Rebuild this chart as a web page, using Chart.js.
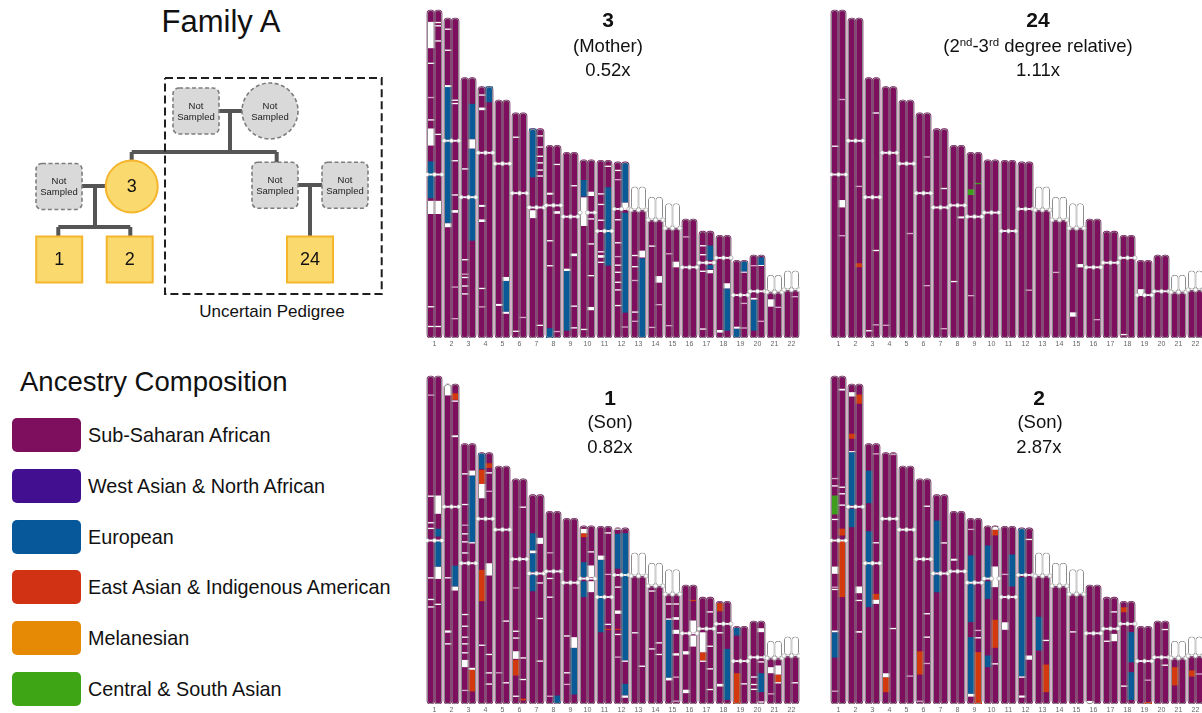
<!DOCTYPE html>
<html>
<head>
<meta charset="utf-8">
<title>Family A – local ancestry</title>
<script src="https://cdn.jsdelivr.net/npm/chart.js@4/dist/chart.umd.min.js"></script>
<style>
  html, body { margin: 0; padding: 0; background: #fff; overflow: hidden; width: 1202px; height: 713px; }
  body { position: relative; font-family: "Liberation Sans", Arial, Helvetica, sans-serif; color: #111; }
  canvas { position: absolute; }
  .txt { position: absolute; white-space: nowrap; text-align: center; }
  .pt { position: absolute; white-space: nowrap; text-align: center; width: 260px; font-size: 18.5px; line-height: 22px; }
  .pt.num { font-size: 21px; line-height: 24px; font-weight: bold; }
  .pt sup { font-size: 0.62em; line-height: 0; vertical-align: 0.55em; }
  .sw { position: absolute; border-radius: 5px; }
  .lab { position: absolute; white-space: nowrap; font-size: 19.8px; line-height: 24px; }
</style>
</head>
<body>

<div class="txt" style="left:121px;width:200px;top:3px;font-size:31px;line-height:37px;">Family A</div>
<div class="txt" style="left:172px;width:200px;top:301px;font-size:17px;line-height:22px;">Uncertain Pedigree</div>
<div class="txt" style="left:20px;top:366px;font-size:27.5px;line-height:32px;text-align:left;">Ancestry Composition</div>

<canvas id="pedigree" width="400" height="330" style="left:0;top:0;"></canvas>
<canvas id="k_mother" width="374" height="344" style="left:426px;top:8px;"></canvas>
<canvas id="k_rel24" width="374" height="344" style="left:830px;top:8px;"></canvas>
<canvas id="k_son1" width="374" height="344" style="left:426px;top:373.5px;"></canvas>
<canvas id="k_son2" width="374" height="344" style="left:830px;top:373.5px;"></canvas>

<div class="pt num" style="left:478px;top:8.3px;">3</div>
<div class="pt" style="left:478px;top:34.6px;">(Mother)</div>
<div class="pt" style="left:478px;top:58.7px;">0.52x</div>

<div class="pt num" style="left:908px;top:8.3px;">24</div>
<div class="pt" style="left:908px;top:34.6px;">(2<sup>nd</sup>-3<sup>rd</sup> degree relative)</div>
<div class="pt" style="left:908px;top:58.7px;">1.11x</div>

<div class="pt num" style="left:480px;top:385.5px;">1</div>
<div class="pt" style="left:480px;top:411.4px;">(Son)</div>
<div class="pt" style="left:480px;top:435.7px;">0.82x</div>

<div class="pt num" style="left:909px;top:385.5px;">2</div>
<div class="pt" style="left:910px;top:411.4px;">(Son)</div>
<div class="pt" style="left:909px;top:435.7px;">2.87x</div>

<div id="legend"></div>

<script>
// ---------------------------------------------------------------------------
// Reference genome (GRCh37), autosomes only, in Mb
// ---------------------------------------------------------------------------
const chromosomes = ['1','2','3','4','5','6','7','8','9','10','11','12','13','14','15','16','17','18','19','20','21','22'];
const chromLengthMb = [249.25, 243.2, 198.0, 191.15, 180.9, 171.1, 159.1, 146.4, 141.2, 135.5, 135.0, 133.85,
                       115.2, 107.35, 102.5, 90.35, 81.2, 78.1, 59.1, 63.0, 48.1, 51.3];
const centromereMb = [125.0, 93.3, 91.0, 50.4, 48.4, 61.0, 59.9, 45.6, 49.0, 40.2, 53.7, 35.8,
                      17.9, 17.6, 19.0, 36.6, 24.0, 17.2, 26.5, 27.5, 13.2, 14.7];
const acrocentric = ['13','14','15','21','22'];

// Ancestry legend
const ancestryLabels = ['Sub-Saharan African', 'West Asian & North African', 'European',
                        'East Asian & Indigenous American', 'Melanesian', 'Central & South Asian'];
const ancestryColors = ['#7e0f5f', '#430f91', '#07589a', '#d23214', '#e68a05', '#3ea515'];

// Segment classes painted on top of the Sub-Saharan African background
const segmentColors = {
  EUR: '#0a5a97',   // European
  EAS: '#d4380f',   // East Asian & Indigenous American
  CSA: '#3e9e1c',   // Central & South Asian
  UNA: '#ffffff',   // unassigned
  LOW: '#d7a6c8'    // low-confidence call
};
const segmentOrder = ['EUR', 'EAS', 'CSA', 'UNA', 'LOW'];

// Painted segments: [chromosome, haplotype (0/1), start Mb, end Mb, class]
const motherSegments = [
  [1,0,9,29,'UNA'],[1,0,40,41,'UNA'],[1,0,66,67,'LOW'],[1,0,83,84,'UNA'],[1,0,90,103,'UNA'],[1,0,115,143,'EUR'],
  [1,0,145,155,'UNA'],[1,1,145,155,'UNA'],[1,0,225,226,'UNA'],[1,0,240,241,'UNA'],[1,1,240,241,'UNA'],
  [1,1,9,10,'UNA'],[1,1,11.5,12.5,'UNA'],[1,1,23,24,'UNA'],[1,1,94,95,'UNA'],
  [2,0,8,9,'UNA'],[2,0,24,25,'UNA'],[2,0,51,52.5,'UNA'],[2,0,52.5,156,'EUR'],[2,0,156,159,'UNA'],
  [2,1,62,63,'UNA'],[2,1,64.5,65.5,'UNA'],[2,1,108,109,'UNA'],[2,1,134,135,'UNA'],[2,1,146,148,'UNA'],
  [2,1,204,205,'LOW'],[2,1,228,229,'LOW'],
  [3,1,20,47,'EUR'],[3,1,47,54,'UNA'],[3,1,54,124,'EUR'],[3,0,69,70,'UNA'],[3,0,138,139,'UNA'],
  [3,0,149,150,'LOW'],[3,0,151.5,152.5,'UNA'],[3,0,158,159,'UNA'],[3,0,164,165,'UNA'],
  [4,0,6,7,'UNA'],[4,0,16,18,'UNA'],[4,0,90,91.5,'UNA'],[4,0,101,103,'UNA'],[4,0,153,154,'UNA'],[4,0,167,168,'LOW'],
  [4,1,0,12,'EUR'],
  [5,0,155,156.5,'UNA'],[5,1,134.5,137.5,'UNA'],[5,1,137.5,161,'EUR'],[5,1,161,162.5,'UNA'],
  [6,0,18,19,'UNA'],[6,0,165.5,166.5,'UNA'],[6,1,155,156,'LOW'],
  [7,0,0,37,'EUR'],[7,0,62,68,'UNA'],[7,1,5,6,'UNA'],[7,1,13.5,14.5,'UNA'],[7,1,20.5,21.5,'UNA'],
  [7,1,25.5,26.5,'UNA'],[7,1,31,32,'UNA'],[7,1,35.5,36.5,'UNA'],[7,1,149,150,'UNA'],
  [8,0,36,37.5,'UNA'],[8,0,72,73,'UNA'],[8,0,91,92,'UNA'],[8,0,139,146.4,'EUR'],[8,1,14,15,'UNA'],
  [8,1,50,52,'UNA'],[8,1,141,142,'LOW'],
  [9,0,88.5,90.3,'UNA'],[9,0,90.3,135.6,'EUR'],[9,1,25,26,'UNA'],[9,1,77,79,'UNA'],[9,1,116.5,117.5,'UNA'],[9,1,133,134,'UNA'],
  [10,0,15.4,28,'EUR'],[10,0,28.6,50.4,'UNA'],[10,0,128.5,129.5,'UNA'],[10,1,24.3,27.6,'UNA'],[10,1,44.5,45.5,'UNA'],
  [10,1,63.5,64.5,'UNA'],[10,1,87.6,88.6,'UNA'],[10,1,111.9,114.4,'UNA'],
  [11,1,4,5,'UNA'],[11,1,20.5,80,'EUR'],[11,0,25,26,'UNA'],[11,0,33,34,'UNA'],[11,0,45,46,'UNA'],
  [11,0,69,70,'UNA'],[11,0,72,74,'UNA'],[11,0,77,78,'UNA'],
  [12,0,6,7,'UNA'],[12,0,13,14,'LOW'],[12,0,43.5,44.5,'UNA'],[12,0,61,62,'UNA'],[12,0,71.5,72.5,'LOW'],
  [12,0,78,79,'UNA'],[12,0,83.4,84.4,'UNA'],[12,0,91,92,'UNA'],[12,0,96.8,97.8,'UNA'],[12,0,108.7,109.7,'UNA'],
  [12,1,1,31,'EUR'],[12,1,31,35.3,'UNA'],[12,1,38.6,114.6,'EUR'],[12,1,125,126,'LOW'],
  [13,0,52,53,'UNA'],[13,0,60.5,61.5,'UNA'],[13,0,71,72,'LOW'],[13,0,95,96,'UNA'],[13,0,102,103,'LOW'],
  [13,1,48.8,54,'UNA'],[13,1,54.6,114.7,'EUR'],
  [14,0,37,38,'UNA'],[14,0,98.8,99.8,'LOW'],[14,1,60.3,65.3,'UNA'],[14,1,81.5,82.5,'LOW'],
  [15,0,38,39,'LOW'],[15,0,92.6,93.6,'LOW'],[15,1,44.5,48.8,'UNA'],
  [16,0,13,14,'LOW'],
  [17,0,10.6,11.6,'UNA'],[17,0,17.4,18.4,'UNA'],[17,0,30,31,'UNA'],[17,0,73.9,74.9,'UNA'],
  [17,1,11,22,'EUR'],[17,1,25.8,29,'EUR'],[17,1,29.5,32,'UNA'],
  [18,0,72,74,'UNA'],[18,1,36.5,40.4,'UNA'],[18,1,40.4,72.6,'EUR'],
  [19,0,50.5,52,'UNA'],[19,0,52,58.6,'EUR'],[19,1,1,8.7,'EUR'],[19,1,8.7,9.5,'UNA'],[19,1,32.3,33.3,'LOW'],[19,1,51,52,'LOW'],
  [20,0,7.5,8.5,'LOW'],[20,0,32.5,33.8,'UNA'],[20,0,34,57.4,'EUR'],[20,1,1.7,7.5,'EUR'],[20,1,7.5,8.3,'UNA'],[20,1,49.8,50.8,'LOW'],
  [21,0,18.7,24.3,'UNA'],[21,1,24.3,25.3,'LOW'],
  [22,1,19.4,20.4,'LOW']
];

const relative24Segments = [
  [1,0,103,104,'UNA'],[1,1,67.5,68.5,'LOW'],[1,1,144.4,150,'UNA'],[1,1,171,172,'LOW'],
  [2,1,127.5,128.5,'LOW'],[2,1,186.4,189.4,'EAS'],
  [3,1,26.5,27.5,'UNA'],[3,1,131,132,'UNA'],[3,1,187.5,188.5,'LOW'],[3,0,192,193,'UNA'],
  [4,0,181,182,'LOW'],
  [5,1,101,102,'LOW'],
  [6,1,33,34,'LOW'],[6,1,130.8,131.8,'LOW'],
  [7,1,45,46,'UNA'],[7,1,151.5,152.5,'LOW'],
  [8,0,103,104,'UNA'],[8,1,54,55.5,'UNA'],
  [9,0,28.2,32.5,'CSA'],[9,1,23.3,24.3,'CSA'],[9,0,108.5,109.5,'LOW'],
  [12,1,97,98,'LOW'],
  [14,0,57,58,'LOW'],
  [15,0,83,86.3,'UNA'],[15,1,46.3,48.8,'UNA'],
  [16,1,75.9,76.9,'LOW'],
  [18,0,75,76,'UNA'],
  [19,0,22,26.4,'UNA']
];

const son1Segments = [
  [1,0,14,15,'LOW'],[1,0,90.8,91.8,'UNA'],[1,0,111,112,'UNA'],[1,0,115.3,116.3,'UNA'],[1,0,152.9,153.9,'UNA'],
  [1,0,169.3,170.3,'UNA'],[1,0,175,176,'UNA'],
  [1,1,90.8,104.7,'UNA'],[1,1,116,122,'EUR'],[1,1,125,145,'EUR'],[1,1,145,154.2,'UNA'],[1,1,173,174,'UNA'],
  [2,0,0,8.7,'UNA'],[2,0,146.8,147.8,'UNA'],[2,0,187.3,189,'UNA'],[2,0,197,198,'UNA'],
  [2,1,7,12,'EAS'],[2,1,12.5,13.5,'UNA'],[2,1,39,40.4,'UNA'],[2,1,138,154,'EUR'],[2,1,154,157,'UNA'],
  [3,0,22.6,23.6,'UNA'],[3,0,45.9,46.9,'UNA'],[3,0,61.6,62.6,'LOW'],[3,0,68.2,69.2,'UNA'],[3,0,74.3,75.3,'UNA'],
  [3,0,82.7,83.7,'UNA'],[3,0,129.5,130.5,'UNA'],[3,0,138.4,139.4,'UNA'],[3,0,146.7,147.7,'UNA'],
  [3,0,151.8,152.8,'UNA'],[3,0,158.6,159.6,'UNA'],[3,0,164.5,170,'UNA'],[3,0,187.2,188.2,'LOW'],
  [3,1,20.6,24.3,'UNA'],[3,1,24.3,75,'EUR'],[3,1,75,76,'UNA'],[3,1,170.5,172,'UNA'],[3,1,172,188.4,'EAS'],
  [4,0,0.6,12.5,'EUR'],[4,0,13.2,23.9,'EAS'],[4,0,23.9,34.8,'UNA'],[4,0,89.2,113,'EAS'],[4,0,146,147,'UNA'],
  [4,1,8.2,11.7,'EAS'],[4,1,15,16,'UNA'],[4,1,29,30,'LOW'],[4,1,84.2,93.5,'UNA'],[4,1,153,154,'UNA'],
  [4,1,167,168,'UNA'],[4,1,175.5,176.5,'UNA'],
  [5,0,156.7,157.7,'LOW'],[5,1,117.4,118.4,'UNA'],[5,1,164.3,165.3,'UNA'],
  [6,0,82.4,83.4,'LOW'],[6,0,115.3,116.3,'UNA'],[6,0,120.5,121.5,'UNA'],[6,0,131,136.8,'UNA'],[6,0,137.5,149.5,'EAS'],
  [6,0,164.7,165.7,'UNA'],[6,1,21,22,'UNA'],[6,1,135.6,136.6,'UNA'],[6,1,152,153,'UNA'],[6,1,167,168.4,'EAS'],
  [7,0,29.3,42.5,'EUR'],[7,0,42.5,44.5,'UNA'],[7,0,44.5,58.9,'EUR'],[7,0,60.7,73.4,'EUR'],
  [7,1,32.8,37.4,'UNA'],[7,1,66.6,67.6,'UNA'],[7,1,93.6,94.6,'UNA'],[7,1,126,127,'UNA'],
  [8,0,31,32,'LOW'],[8,0,50.5,51.5,'UNA'],[8,0,64.7,65.7,'UNA'],[8,0,140,141,'LOW'],[8,1,140,145.8,'EUR'],
  [9,0,89,90,'UNA'],[9,0,117,118,'UNA'],[9,0,125.8,126.8,'LOW'],[9,1,90.4,98.5,'UNA'],[9,1,98.5,134,'EUR'],
  [10,0,2.4,5.7,'UNA'],[10,0,5.7,8.7,'EAS'],[10,0,27.7,39.1,'EUR'],[10,0,42.2,54.3,'EUR'],
  [10,1,19.4,20.4,'UNA'],[10,1,30.2,39.1,'UNA'],[10,1,42.2,50.5,'UNA'],
  [11,0,22.2,25.4,'UNA'],[11,0,25.4,80.5,'EUR'],
  [11,1,4.5,5.5,'UNA'],[11,1,36,37,'LOW'],[11,1,74,75,'UNA'],[11,1,77.9,78.7,'EAS'],
  [12,0,0.5,1.5,'UNA'],[12,0,4.5,31,'EUR'],[12,0,44.5,45.5,'UNA'],[12,0,62.8,65.3,'UNA'],[12,0,76.7,77.5,'EAS'],
  [12,0,80.5,81.5,'UNA'],[12,0,97.7,98.7,'LOW'],
  [12,1,4,100.8,'EUR'],[12,1,100.8,101.8,'UNA'],[12,1,118.5,127.4,'EUR'],[12,1,127.4,129.1,'UNA'],
  [13,0,60.6,61.6,'UNA'],[13,1,86,87,'UNA'],
  [14,0,21,22,'UNA'],[14,0,65,66,'UNA'],[14,1,60.4,61.4,'UNA'],[14,1,69.2,70.2,'UNA'],
  [15,0,26,27,'UNA'],[15,0,37.5,38.5,'UNA'],[15,0,38.5,82.6,'EUR'],[15,0,82.6,84.6,'UNA'],
  [15,1,26,27,'UNA'],[15,1,36.5,38.5,'UNA'],[15,1,46.1,49.2,'UNA'],[15,1,63.9,65.7,'UNA'],
  [15,1,81.6,82.6,'LOW'],[15,1,99.8,100.8,'LOW'],
  [16,0,50.2,52.7,'UNA'],[16,0,79.5,82.1,'UNA'],[16,1,11.2,12.2,'EAS'],[16,1,26.9,36,'UNA'],[16,1,38.3,46.7,'UNA'],
  [17,0,26.7,41.9,'UNA'],[17,0,41.9,48.2,'EAS'],[17,0,48.2,49.2,'UNA'],
  [17,1,10.7,11.7,'UNA'],[17,1,36.8,37.8,'UNA'],[17,1,54,55,'UNA'],[17,1,69.7,70.7,'UNA'],
  [18,0,1.5,7.6,'EAS'],[18,0,23.5,24.5,'UNA'],[18,0,62.8,64.8,'UNA'],[18,1,36.2,75,'EUR'],
  [19,0,1.2,7.1,'EUR'],[19,0,35.7,59,'EAS'],[19,1,43.3,44.3,'UNA'],
  [20,0,42,43,'UNA'],[20,0,47.7,48.7,'UNA'],[20,0,51.4,52.4,'UNA'],
  [20,1,5.4,8.4,'UNA'],[20,1,30.5,31.5,'UNA'],[20,1,39.6,54,'EUR'],[20,1,61,62,'UNA'],
  [21,0,20.1,24.7,'UNA'],[21,0,39.9,40.9,'LOW'],[21,1,18.8,25.7,'UNA'],[21,1,25.7,31.5,'EAS'],[21,1,31.5,32.5,'UNA'],
  [22,1,34.7,35.7,'UNA']
];

const son2Segments = [
  [1,0,77.4,78.4,'LOW'],[1,0,83,84,'UNA'],[1,0,90.8,105.2,'CSA'],[1,0,108.5,109.5,'UNA'],[1,0,144.8,150.3,'UNA'],
  [1,0,160,161,'LOW'],[1,0,161.7,162.7,'UNA'],[1,0,193.4,194.7,'UNA'],[1,0,194.7,214,'EUR'],[1,0,239,240,'LOW'],
  [1,1,9.7,11,'UNA'],[1,1,84,85,'UNA'],[1,1,89,90,'UNA'],[1,1,97.6,98.6,'UNA'],[1,1,116,121.2,'EAS'],[1,1,125,168,'EAS'],
  [2,0,6.2,9.5,'UNA'],[2,0,37.8,41.6,'EAS'],[2,0,51,51.8,'UNA'],[2,0,51.8,92.3,'EUR'],[2,0,94.8,108.8,'EUR'],
  [2,1,8,15,'EAS'],[2,1,153.9,159,'UNA'],[2,1,164,165,'UNA'],[2,1,187.8,189,'UNA'],
  [3,0,20.6,45.4,'EUR'],[3,0,66.7,124.4,'EUR'],
  [3,1,7.4,8.4,'LOW'],[3,1,75,76,'UNA'],[3,1,114.3,118.8,'EAS'],[3,1,118.8,121.9,'UNA'],
  [4,0,167.8,170.8,'UNA'],[4,0,170.8,182.2,'EAS'],[4,1,1,2,'LOW'],[4,1,133.3,134.3,'UNA'],
  [5,1,159.2,160.2,'LOW'],
  [6,0,131,148.7,'EAS'],[6,0,168.5,169.5,'LOW'],
  [6,1,20.3,21.3,'UNA'],[6,1,102,103,'UNA'],[6,1,119.8,120.8,'UNA'],[6,1,139.8,140.8,'LOW'],
  [7,0,19.7,59,'EUR'],[7,0,60.7,74.2,'EUR'],[7,1,36.2,37.2,'UNA'],
  [8,0,36,37.5,'UNA'],
  [9,0,8,9,'LOW'],[9,0,28.3,48.6,'EUR'],[9,0,49.8,79,'EUR'],[9,0,90.4,133.5,'EUR'],[9,0,133.5,135.6,'UNA'],
  [9,1,84.8,85.8,'LOW'],[9,1,90.4,91.4,'UNA'],[9,1,101.8,141.2,'EAS'],
  [10,0,15,40.4,'EUR'],[10,0,42.2,55.6,'EUR'],[10,0,98.6,107.5,'EUR'],
  [10,1,1,3.1,'UNA'],[10,1,3.1,7.4,'EAS'],[10,1,31,46.7,'UNA'],[10,1,71.5,92.8,'EAS'],[10,1,104.5,105.5,'UNA'],
  [11,0,36,37,'LOW'],[11,0,72.9,78.6,'UNA'],[11,1,21.4,45.7,'EUR'],
  [12,0,0.7,36.2,'EUR'],[12,0,37.5,112.9,'EUR'],[12,0,112.9,113.9,'UNA'],[12,0,127.4,129,'UNA'],
  [12,1,8.3,9.3,'UNA'],[12,1,97,100.2,'UNA'],
  [13,0,48.9,74.5,'EUR'],[13,1,66.4,67.4,'UNA'],[13,1,85.2,106.2,'EAS'],
  [15,0,47.2,48.2,'UNA'],
  [16,0,88,90.35,'UNA'],
  [17,0,33,34,'UNA'],[17,1,10.7,11.7,'UNA'],[17,1,27.9,33.5,'UNA'],
  [18,0,4.6,8.4,'EAS'],[18,0,64,65,'UNA'],[18,1,23.5,46.4,'EUR'],[18,1,53.9,75,'EUR'],
  [19,1,40.5,41.5,'LOW'],[19,1,57.5,59.1,'EAS'],
  [20,1,5.9,6.9,'UNA'],[20,1,33,34,'UNA'],
  [21,0,20.1,34,'EAS'],
  [22,0,25.8,30.4,'EAS'],[22,1,28,29,'LOW']
];

// ---------------------------------------------------------------------------
// Pedigree (diagram units = pixels of its own canvas)
// ---------------------------------------------------------------------------
const pedigreeLines = [
  [[219,111],[242,111]], [[230,111],[230,152]], [[131.7,152],[276.7,152]],
  [[131.7,152],[131.7,161]], [[276.7,152],[276.7,163]],
  [[82,186],[106,186]], [[95,186],[95,227]], [[58.3,227],[130.3,227]],
  [[58.3,227],[58.3,237]], [[130.3,227],[130.3,237]],
  [[298,185],[322,185]], [[310,185],[310,237]]
];
const uncertainBox = [[165,78],[381.7,78],[381.7,294],[165,294],[165,78]];
const pedigreeNodes = [
  { x: 196,   y: 111,   shape: 'square', size: 46, label: 'Not\nSampled', sampled: false },
  { x: 270,   y: 111,   shape: 'circle', size: 56, label: 'Not\nSampled', sampled: false },
  { x: 59,    y: 186.5, shape: 'square', size: 46, label: 'Not\nSampled', sampled: false },
  { x: 131.7, y: 186.5, shape: 'circle', size: 52, label: '3',  sampled: true },
  { x: 275,   y: 185.3, shape: 'square', size: 46, label: 'Not\nSampled', sampled: false },
  { x: 345,   y: 185.3, shape: 'square', size: 46, label: 'Not\nSampled', sampled: false },
  { x: 59.2,  y: 259.5, shape: 'square', size: 46, label: '1',  sampled: true },
  { x: 129.7, y: 259.5, shape: 'square', size: 46, label: '2',  sampled: true },
  { x: 310,   y: 259.5, shape: 'square', size: 46, label: '24', sampled: true }
];

// ---------------------------------------------------------------------------
// Legend
// ---------------------------------------------------------------------------
(function buildLegend() {
  const host = document.getElementById('legend');
  ancestryLabels.forEach((name, i) => {
    const top = 418 + 50.8 * i;
    const sw = document.createElement('div');
    sw.className = 'sw';
    Object.assign(sw.style, { left: '11.5px', top: top + 'px', width: '69px', height: '34px', background: ancestryColors[i] });
    host.appendChild(sw);
    const lb = document.createElement('div');
    lb.className = 'lab';
    lb.textContent = name;
    Object.assign(lb.style, { left: '88px', top: (top + 17 - 12) + 'px' });
    host.appendChild(lb);
  });
})();

// ---------------------------------------------------------------------------
// Karyogram panels
// ---------------------------------------------------------------------------
const OUTLINE = '#8d8d8d';
const BAR_W = 7.5;
const Y_MAX = 250.8;
const idx = c => chromosomes.indexOf(String(c));
const isAcro = c => acrocentric.includes(String(c));

function bodyRange(c) {            // main body (q-arm only for acrocentric chromosomes)
  const i = idx(c);
  return isAcro(c) ? [0, chromLengthMb[i] - centromereMb[i] - 0.3] : [0, chromLengthMb[i]];
}
function toBar(chrom, startMb, endMb) { // distance from the q-terminal end, so all chromosomes share a baseline
  const L = chromLengthMb[idx(chrom)];
  return { x: String(chrom), y: [L - endMb, L - startMb] };
}

function karyogramDatasets(segments) {
  const base = { type: 'bar', xAxisID: 'x', yAxisID: 'y', barThickness: BAR_W, borderSkipped: false, borderWidth: 0, grouped: true };
  const pair = make => [0, 1].map(hi => Object.assign({}, base, { stack: hi ? 'B' : 'A' }, make(hi)));
  const layers = [];   // bottom to top

  // Sub-Saharan African background
  layers.push(pair(() => ({ backgroundColor: ancestryColors[0], borderRadius: 3.6,
    data: chromosomes.map(c => ({ x: c, y: bodyRange(c) })) })));

  // Painted segments
  segmentOrder.forEach(code => layers.push(pair(hi => ({
    backgroundColor: segmentColors[code], inflateAmount: 0,
    data: segments.filter(s => s[1] === hi && s[4] === code).map(s => toBar(s[0], s[2], s[3]))
  }))));

  // Centromere constriction band
  layers.push(pair(() => ({ backgroundColor: '#ffffff', inflateAmount: 0,
    data: chromosomes.filter(c => !isAcro(c)).map(c => toBar(c, centromereMb[idx(c)] - 0.7, centromereMb[idx(c)] + 0.7)) })));

  // Chromosome outlines
  layers.push(pair(() => ({ backgroundColor: 'rgba(0,0,0,0)', borderColor: OUTLINE, borderWidth: 1, borderRadius: 3.6, inflateAmount: 0,
    data: chromosomes.map(c => ({ x: c, y: bodyRange(c) })) })));

  // Short arms of acrocentric chromosomes (not painted)
  layers.push(pair(() => ({ backgroundColor: '#ffffff', borderColor: OUTLINE, borderWidth: 1, borderRadius: 3.6, inflateAmount: 0,
    data: acrocentric.map(c => toBar(c, 0, centromereMb[idx(c)] - 0.3)) })));

  // Centromere beads across each homolog pair
  const beads = [];
  chromosomes.forEach((c, i) => {
    const yv = chromLengthMb[i] - centromereMb[i];
    [-0.44, 0, 0.44].forEach(dx => beads.push({ x: i + dx, y: yv }));
  });
  const beadSet = { type: 'scatter', xAxisID: 'x2', yAxisID: 'y', data: beads, pointStyle: 'circle',
                    pointRadius: 2.1, backgroundColor: '#ffffff', borderColor: '#a0a0a0', borderWidth: 0.7 };

  // Chart.js paints dataset 0 last, so the topmost layer goes first
  const ds = [beadSet];
  layers.slice().reverse().forEach(p => ds.push(p[0], p[1]));
  return ds;
}

function drawKaryogram(canvasId, segments) {
  new Chart(document.getElementById(canvasId), {
    type: 'bar',
    data: { labels: chromosomes, datasets: karyogramDatasets(segments) },
    options: {
      responsive: false, animation: false, devicePixelRatio: 1,
      layout: { padding: 0, autoPadding: false },
      plugins: { legend: { display: false }, tooltip: { enabled: false }, title: { display: false } },
      scales: {
        x: {
          type: 'category', offset: true,
          grid: { display: false, drawTicks: false }, border: { display: false },
          ticks: { autoSkip: false, maxRotation: 0, padding: 2, color: '#666', font: { size: 7, family: 'Liberation Sans, Arial, sans-serif' } },
          afterFit: s => { s.height = 14; }
        },
        x2: { type: 'linear', display: false, offset: false, grace: 0, min: -0.5, max: 21.5 },
        y: { type: 'linear', display: false, stacked: false, min: 0, max: Y_MAX }
      }
    }
  });
}

drawKaryogram('k_mother', motherSegments);
drawKaryogram('k_rel24', relative24Segments);
drawKaryogram('k_son1', son1Segments);
drawKaryogram('k_son2', son2Segments);

// ---------------------------------------------------------------------------
// Pedigree chart
// ---------------------------------------------------------------------------
const pedigreeNodePlugin = {
  id: 'pedigreeNodes',
  afterDatasetsDraw(chart) {
    const { ctx, scales: { x, y } } = chart;
    const px = v => x.getPixelForValue(v), py = v => y.getPixelForValue(v);
    pedigreeNodes.forEach(n => {
      const cx = px(n.x), cy = py(n.y);
      const half = (px(n.x + n.size / 2) - px(n.x - n.size / 2)) / 2;
      ctx.save();
      ctx.beginPath();
      if (n.shape === 'circle') ctx.arc(cx, cy, half, 0, Math.PI * 2);
      else if (n.sampled) ctx.rect(cx - half, cy - half, half * 2, half * 2);
      else ctx.roundRect(cx - half, cy - half, half * 2, half * 2, 6);
      if (n.sampled) {
        ctx.fillStyle = '#fad96f'; ctx.fill();
        ctx.lineWidth = 2; ctx.strokeStyle = '#f5b52c'; ctx.stroke();
        ctx.fillStyle = '#111';
        ctx.font = '18px "Liberation Sans", Arial, sans-serif';
        ctx.textAlign = 'center'; ctx.textBaseline = 'middle';
        ctx.fillText(n.label, cx, cy + 1);
      } else {
        ctx.fillStyle = '#d9d9d9'; ctx.fill();
        ctx.setLineDash([4, 2.5]); ctx.lineWidth = 1.6; ctx.strokeStyle = '#7d7d7d'; ctx.stroke();
        ctx.setLineDash([]);
        ctx.fillStyle = '#222';
        ctx.font = '9.5px "Liberation Sans", Arial, sans-serif';
        ctx.textAlign = 'center'; ctx.textBaseline = 'middle';
        const parts = n.label.split('\n');
        ctx.fillText(parts[0], cx, cy - 5);
        ctx.fillText(parts[1], cx, cy + 6.3);
      }
      ctx.restore();
    });
  }
};

const pedigreeDatasets = pedigreeLines.map(seg => ({
  data: seg.map(p => ({ x: p[0], y: p[1] })), showLine: true, pointRadius: 0,
  borderColor: '#555555', borderWidth: 4, borderCapStyle: 'butt'
}));
pedigreeDatasets.unshift({
  data: uncertainBox.map(p => ({ x: p[0], y: p[1] })), showLine: true, pointRadius: 0,
  borderColor: '#1e1e1e', borderWidth: 2, borderDash: [8, 4], borderJoinStyle: 'miter', borderCapStyle: 'butt'
});

new Chart(document.getElementById('pedigree'), {
  type: 'scatter',
  data: { datasets: pedigreeDatasets },
  options: {
    responsive: false, animation: false, devicePixelRatio: 1,
    layout: { padding: 0, autoPadding: false },
    plugins: { legend: { display: false }, tooltip: { enabled: false } },
    scales: {
      x: { type: 'linear', display: false, min: 0, max: 400 },
      y: { type: 'linear', display: false, min: 0, max: 330, reverse: true }
    }
  },
  plugins: [pedigreeNodePlugin]
});
</script>
</body>
</html>
